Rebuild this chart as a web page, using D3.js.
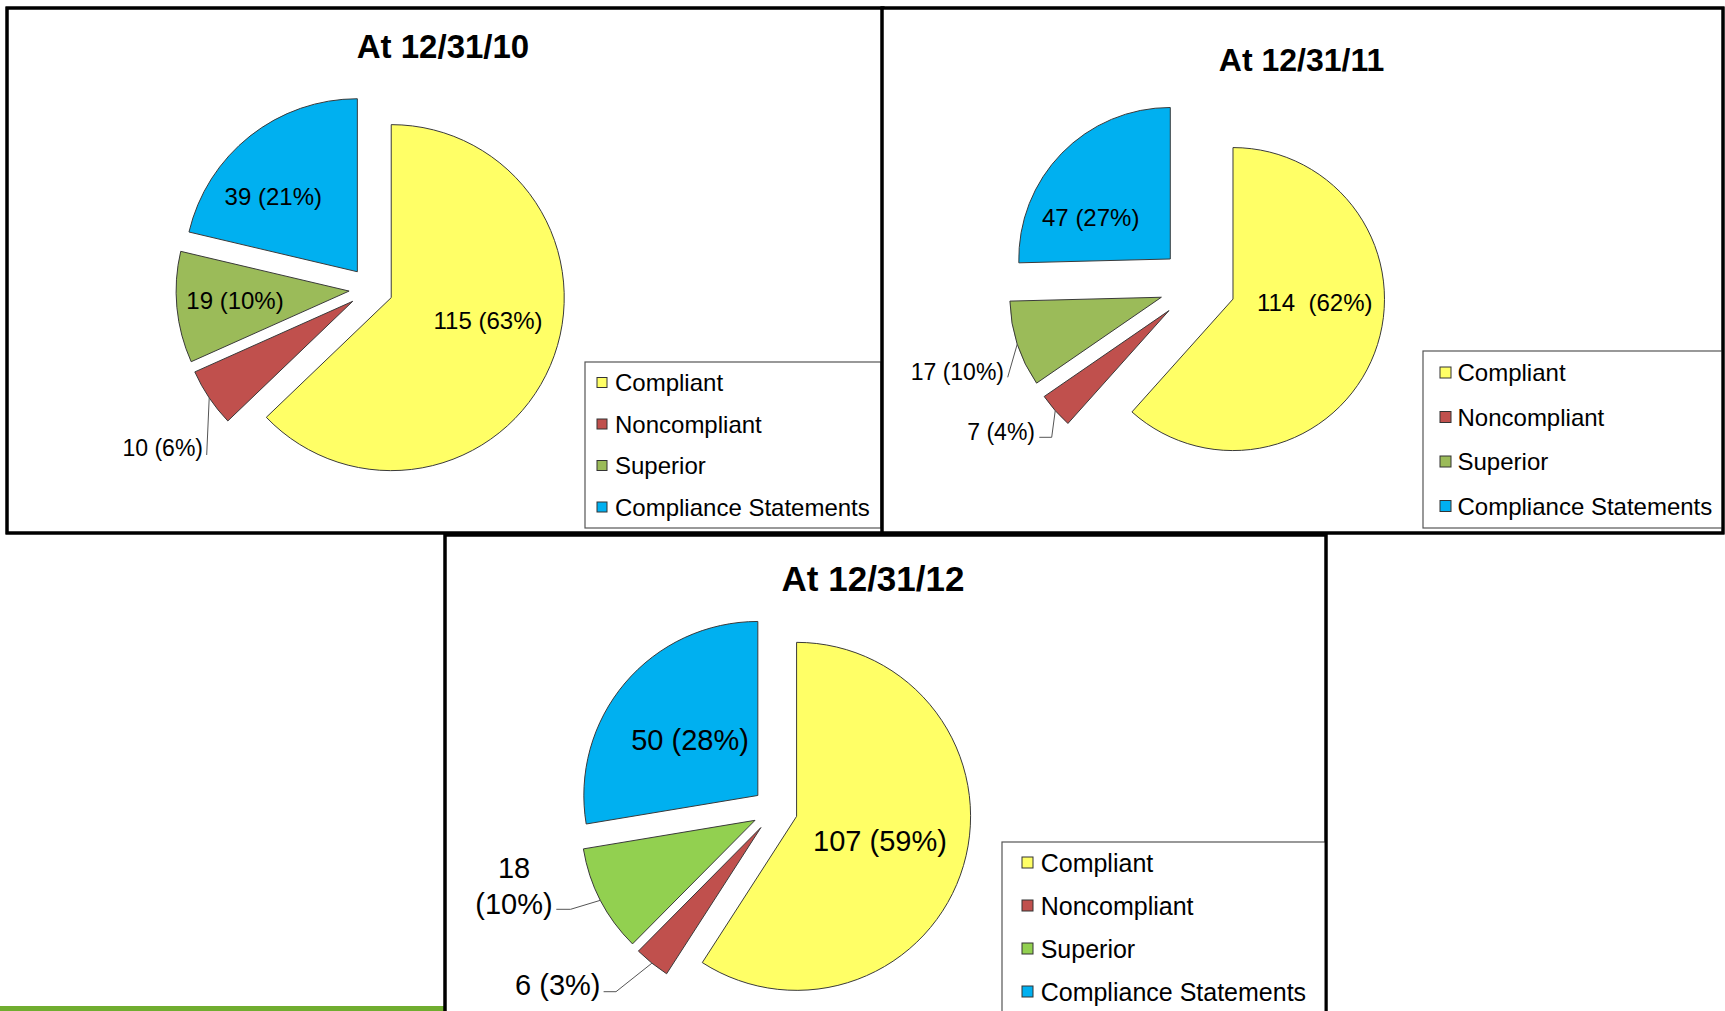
<!DOCTYPE html>
<html>
<head>
<meta charset="utf-8">
<script src="https://cdn.jsdelivr.net/npm/d3@7"></script>
<style>
  body { margin: 0; background: #fff; }
  svg { display: block; font-family: Arial, 'Liberation Sans', sans-serif; }
  .label { white-space: pre; }
</style>
</head>
<body>
<div id="chart"></div>
<script>
// chart values
const categories = ['Compliant', 'Noncompliant', 'Superior', 'Compliance Statements'];
const titles = ['At 12/31/10', 'At 12/31/11', 'At 12/31/12'];
const counts2010 = [115, 10, 19, 39];
const counts2011 = [114, 7, 17, 47];
const counts2012 = [107, 6, 18, 50];
const labels2010 = ['115 (63%)', '10 (6%)', '19 (10%)', '39 (21%)'];
const labels2011 = ['114  (62%)', '7 (4%)', '17 (10%)', '47 (27%)'];
const labels2012 = ['107 (59%)', '6 (3%)', '18\n(10%)', '50 (28%)'];

// styles
const colorsOlive = ['#ffff66', '#c0504d', '#9bbb59', '#00b0f0'];
const colorsLime = ['#ffff66', '#c0504d', '#92d050', '#00b0f0'];

const width = 1725;
const height = 1011;

// layout of each panel (label offsets are relative to the pie centre)
const panels = [
  {
    title: titles[0], counts: counts2010, labels: labels2010, colors: colorsOlive,
    frame: { x: 7, y: 8, w: 876, h: 525 },
    titleX: 443, titleY: 46, titleSize: 33,
    cx: 371, cy: 289, r: 173, explode: 22, labelSize: 24,
    labelPos: [
      { dx: 117, dy: 31 },
      { dx: -168, dy: 159, anchor: 'end', size: 23, leader: [[-164.3, 166]] },
      { dx: -136, dy: 11 },
      { dx: -97.7, dy: -93 },
    ],
    legend: { x: 585, y: 362, w: 296, h: 166, boxX: 597, box: 10, textX: 615, firstY: 382.5, step: 41.5, size: 24 },
  },
  {
    title: titles[1], counts: counts2011, labels: labels2011, colors: colorsOlive,
    frame: { x: 882, y: 8, w: 841, h: 525 },
    titleX: 1301.5, titleY: 59.5, titleSize: 32,
    cx: 1197.5, cy: 285.5, r: 151.5, explode: 38, labelSize: 24,
    labelPos: [
      { dx: 117.2, dy: 16.8 },
      { dx: -162.5, dy: 146.2, anchor: 'end', size: 23, leader: [[-145.8, 151.8], [-158.2, 151.8]] },
      { dx: -193.5, dy: 86.2, anchor: 'end', size: 23, leader: [[-189.8, 91.8]] },
      { dx: -106.8, dy: -67.8 },
    ],
    legend: { x: 1423, y: 351, w: 299, h: 177, boxX: 1440, box: 11, textX: 1457.5, firstY: 372.5, step: 44.5, size: 24 },
  },
  {
    title: titles[2], counts: counts2012, labels: labels2012, colors: colorsLime,
    frame: { x: 445, y: 535, w: 881, h: 500 },
    titleX: 873, titleY: 578.3, titleSize: 35,
    cx: 775, cy: 810, r: 174, explode: 22.5, labelSize: 29,
    labelPos: [
      { dx: 105, dy: 30.7 },
      { dx: -174.5, dy: 175, anchor: 'end', leader: [[-159, 181.7], [-171.4, 181.7]] },
      { dx: -261, dy: 57.7, lineHeight: 35.6, leader: [[-204.4, 99.3], [-218.7, 99.3]] },
      { dx: -85, dy: -70 },
    ],
    legend: { x: 1002, y: 842, w: 324, h: 200, boxX: 1022, box: 11, textX: 1040.7, firstY: 862.5, step: 43, size: 25 },
  },
];

const svg = d3.select('#chart')
  .append('svg')
  .attr('width', width)
  .attr('height', height);

svg.append('rect')
  .attr('width', width)
  .attr('height', height)
  .attr('fill', '#fff');

// green rule along the bottom left
svg.append('rect')
  .attr('x', 0)
  .attr('y', 1006)
  .attr('width', 444)
  .attr('height', 5)
  .attr('fill', '#70ad2f');

const pie = d3.pie().sort(null).value(d => d);

function drawPanel(p) {
  const g = svg.append('g');

  // panel frame
  g.append('rect')
    .attr('x', p.frame.x)
    .attr('y', p.frame.y)
    .attr('width', p.frame.w)
    .attr('height', p.frame.h)
    .attr('fill', '#fff')
    .attr('stroke', '#000')
    .attr('stroke-width', 3);

  g.append('text')
    .attr('x', p.titleX)
    .attr('y', p.titleY)
    .attr('dy', '0.36em')
    .attr('text-anchor', 'middle')
    .style('font-size', `${p.titleSize}px`)
    .style('font-weight', 'bold')
    .text(p.title);

  const arcs = pie(p.counts);
  const arc = d3.arc().innerRadius(0).outerRadius(p.r);
  const mid = d => (d.startAngle + d.endAngle) / 2;
  const shift = d => [Math.sin(mid(d)) * p.explode, -Math.cos(mid(d)) * p.explode];

  const pieG = g.append('g').attr('transform', `translate(${p.cx},${p.cy})`);

  pieG.selectAll('path')
    .data(arcs)
    .enter()
    .append('path')
    .attr('d', arc)
    .attr('transform', d => `translate(${shift(d)})`)
    .attr('fill', (d, i) => p.colors[i])
    .attr('stroke', '#3a3a3a')
    .attr('stroke-width', 1);

  // leader lines from the middle of the slice's rim
  arcs.forEach((d, i) => {
    const pos = p.labelPos[i];
    if (!pos.leader) return;
    const [sx, sy] = shift(d);
    const start = [sx + Math.sin(mid(d)) * p.r, sy - Math.cos(mid(d)) * p.r];
    pieG.append('path')
      .attr('d', d3.line()([start, ...pos.leader]))
      .attr('fill', 'none')
      .attr('stroke', '#555')
      .attr('stroke-width', 1);
  });

  arcs.forEach((d, i) => {
    const pos = p.labelPos[i];
    const lines = p.labels[i].split('\n');
    const text = pieG.append('text')
      .attr('class', 'label')
      .attr('text-anchor', pos.anchor || 'middle')
      .style('font-size', `${pos.size || p.labelSize}px`)
      .attr('fill', '#000');
    lines.forEach((line, k) => {
      text.append('tspan')
        .attr('x', pos.dx)
        .attr('y', pos.dy + k * (pos.lineHeight || 0))
        .attr('dy', '0.36em')
        .text(line);
    });
  });

  // legend
  const lg = p.legend;
  g.append('rect')
    .attr('x', lg.x)
    .attr('y', lg.y)
    .attr('width', lg.w)
    .attr('height', lg.h)
    .attr('fill', '#fff')
    .attr('stroke', '#555')
    .attr('stroke-width', 1.2);

  const items = g.selectAll('.legend-item')
    .data(categories)
    .enter()
    .append('g')
    .attr('class', 'legend-item')
    .attr('transform', (d, i) => `translate(0,${lg.firstY + i * lg.step})`);

  items.append('rect')
    .attr('x', lg.boxX)
    .attr('y', -lg.box / 2)
    .attr('width', lg.box)
    .attr('height', lg.box)
    .attr('fill', (d, i) => p.colors[i])
    .attr('stroke', '#333')
    .attr('stroke-width', 1);

  items.append('text')
    .attr('x', lg.textX)
    .attr('dy', '0.36em')
    .style('font-size', `${lg.size}px`)
    .attr('fill', '#000')
    .text(d => d);

  // keep the panel's frame on top of the legend box
  g.append('rect')
    .attr('x', p.frame.x)
    .attr('y', p.frame.y)
    .attr('width', p.frame.w)
    .attr('height', p.frame.h)
    .attr('fill', 'none')
    .attr('stroke', '#000')
    .attr('stroke-width', 3);
}

panels.forEach(drawPanel);
</script>
</body>
</html>
